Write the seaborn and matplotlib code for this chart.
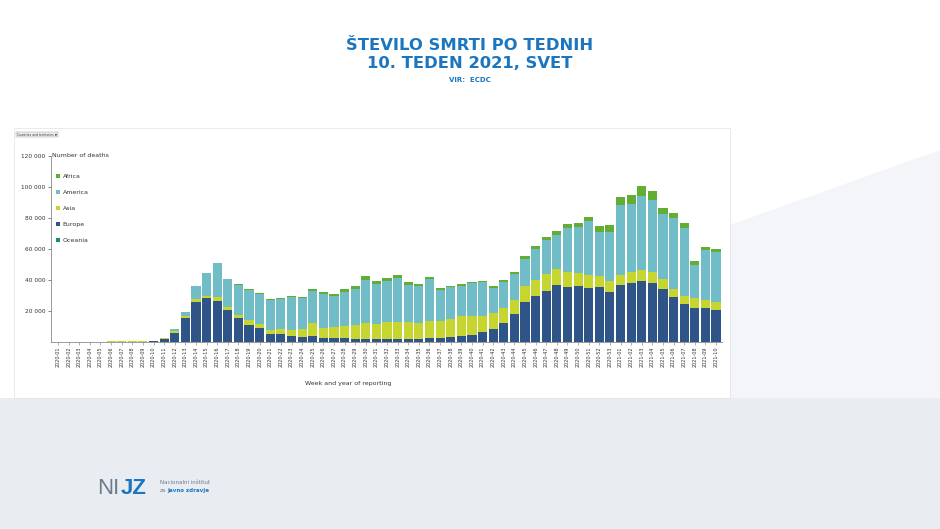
import matplotlib.pyplot as plt
import seaborn as sns
import numpy as np
from matplotlib.patches import Patch, Rectangle, Polygon
from matplotlib.ticker import FuncFormatter

# week labels 2020-01 .. 2020-53, 2021-01 .. 2021-10
weeks = [f"2020-{w:02d}" for w in range(1, 54)] + [f"2021-{w:02d}" for w in range(1, 11)]

# weekly deaths per continent
oceania = [0, 0, 0, 0, 0, 0, 0, 0, 0, 0,
           0, 5, 10, 20, 20, 10, 5, 0, 0, 0,
           0, 0, 0, 0, 0, 0, 10, 20, 40, 70,
           100, 110, 120, 100, 80, 50, 20, 10, 5, 5,
           5, 5, 5, 5, 5, 5, 5, 5, 5, 5,
           5, 5, 5,
           5, 5, 5, 5, 5, 5, 5, 5, 5, 5]
europe = [0, 0, 0, 0, 0, 0, 0, 10, 50, 500,
          2000, 6000, 15700, 26000, 28200, 26400, 20600, 15300, 11200, 8800,
          5400, 5000, 3900, 3200, 3900, 2400, 2400, 2400, 1900, 1700,
          1700, 1900, 1900, 1900, 1900, 2400, 2400, 3000, 3900, 4500,
          6200, 8200, 12000, 18100, 26000, 29900, 33100, 36600, 35700, 35900,
          35000, 35300, 32300,
          37000, 38300, 39300, 37800, 34400, 29200, 24700, 22100, 21700, 20900]
asia = [0, 0, 20, 100, 300, 500, 700, 800, 400, 400,
        300, 800, 900, 1500, 1700, 2800, 1800, 2300, 2800, 2600,
        2600, 3400, 4100, 5400, 8100, 6600, 7300, 8100, 9300, 10400,
        10100, 10600, 10600, 10600, 10200, 10900, 11400, 11800, 12700, 12100,
        10800, 10300, 9700, 9000, 10300, 10100, 10800, 10300, 9500, 8400,
        8200, 7300, 6800,
        6400, 6600, 6900, 7400, 6000, 5200, 5200, 6500, 5400, 5100]
america = [0, 0, 0, 0, 0, 0, 0, 0, 0, 20,
           200, 1400, 2800, 8600, 14600, 21700, 18000, 19300, 19500, 19500,
           19100, 19200, 21000, 19800, 20700, 21700, 20000, 21800, 23100, 27900,
           25200, 26600, 28600, 24000, 23800, 27100, 20000, 20400, 19700, 21400,
           21400, 16500, 16800, 16500, 17200, 20200, 21900, 22300, 28300, 30100,
           34600, 28600, 32100,
           44800, 44300, 48200, 46400, 42200, 45400, 43800, 21300, 32200, 32100]
africa = [0, 0, 0, 0, 0, 0, 0, 0, 0, 0,
          10, 50, 100, 200, 200, 300, 400, 500, 500, 500,
          600, 600, 700, 800, 1300, 1300, 1500, 1700, 2000, 2600,
          2300, 2200, 2100, 1800, 1700, 1500, 1200, 1100, 900, 900,
          900, 1300, 1500, 1800, 2200, 1900, 2100, 2200, 2400, 2400,
          2800, 3800, 4100,
          5300, 5800, 6200, 6000, 3600, 3200, 2800, 2100, 2200, 2100]

colors = {
    'Africa': '#63ad35',
    'America': '#70bcc7',
    'Asia': '#c6d530',
    'Europe': '#2f5487',
    'Oceania': '#16906f',
}
stack_order = ['Oceania', 'Europe', 'Asia', 'America', 'Africa']   # bottom -> top
legend_order = ['Africa', 'America', 'Asia', 'Europe', 'Oceania']
series = {'Oceania': oceania, 'Europe': europe, 'Asia': asia,
          'America': america, 'Africa': africa}

W, H = 940, 529


def fx(x):
    return x / W


def fy(y):
    return 1 - y / H


sns.set_theme(style="white")
plt.rcParams['font.family'] = ['DejaVu Sans']

fig = plt.figure(figsize=(W / 100, H / 100), dpi=100)
fig.patch.set_facecolor('white')

# slide background shapes
fig.add_artist(Polygon([(fx(0), fy(398)), (fx(940), fy(398)), (fx(940), fy(529)), (fx(0), fy(529))],
                       closed=True, transform=fig.transFigure, facecolor='#e9edf2', edgecolor='none', zorder=-3))
fig.add_artist(Polygon([(fx(730), fy(225)), (fx(940), fy(150)), (fx(940), fy(398)), (fx(730), fy(398))],
                       closed=True, transform=fig.transFigure, facecolor='#f3f5f8', edgecolor='none', zorder=-3))
# white chart panel
fig.add_artist(Rectangle((fx(14), fy(398)), (730 - 14) / W, (398 - 128) / H,
                         transform=fig.transFigure, facecolor='white', edgecolor='#dde1e7', lw=0.5, zorder=-1))

# title
title_color = '#1b76bf'
fig.text(0.5, fy(45), 'ŠTEVILO SMRTI PO TEDNIH', ha='center', va='center',
         fontsize=11.8, fontweight='bold', color=title_color)
fig.text(0.5, fy(64), '10. TEDEN 2021, SVET', ha='center', va='center',
         fontsize=11.8, fontweight='bold', color=title_color)
fig.text(0.5, fy(80), 'VIR:  ECDC', ha='center', va='center',
         fontsize=5, fontweight='bold', color=title_color)

# chart
ax = fig.add_axes([fx(51), fy(342), (722 - 51) / W, (342 - 156) / H])
ax.set_facecolor('none')

tops = np.cumsum(np.array([series[n] for n in stack_order]), axis=0)
for name, top in reversed(list(zip(stack_order, tops))):
    sns.barplot(x=weeks, y=top, color=colors[name], saturation=1, width=0.86,
                errorbar=None, edgecolor='none', ax=ax)

ax.set_xlim(-0.66, len(weeks) - 0.44)
ax.set_ylim(0, 120000)
ax.set_yticks([20000, 40000, 60000, 80000, 100000, 120000])
ax.yaxis.set_major_formatter(FuncFormatter(lambda v, p: f"{v:,.0f}".replace(",", " ")))
ax.set_xticks(range(len(weeks)))
ax.set_xticklabels(weeks, rotation=90)
ax.tick_params(axis='y', labelsize=4.2, length=2, width=0.5, pad=2, colors='#555555', labelcolor='#333333', left=True)
ax.tick_params(axis='x', labelsize=3.5, length=2, width=0.4, pad=1.5, colors='#777777', labelcolor='#333333', bottom=True)
ax.set_xlabel('')
ax.set_ylabel('')
for s in ['top', 'right']:
    ax.spines[s].set_visible(False)
for s in ['left', 'bottom']:
    ax.spines[s].set_color('#8a8a8a')
    ax.spines[s].set_linewidth(0.6)

ax.text(0.002, 1.0, 'Number of deaths', transform=ax.transAxes, fontsize=4.5,
        ha='left', va='center', color='#333333')

handles = [Patch(facecolor=colors[n], edgecolor='none', label=n) for n in legend_order]
leg = ax.legend(handles=handles, loc='upper left', bbox_to_anchor=(0.008, 0.905),
                frameon=False, fontsize=4.5, handlelength=0.6, handleheight=0.6,
                handletextpad=0.4, labelspacing=1.75, borderaxespad=0, borderpad=0)
for t in leg.get_texts():
    t.set_color('#333333')

fig.text(fx(348), fy(384), 'Week and year of reporting', ha='center', va='center',
         fontsize=4.5, color='#333333')

# small filter widget
fig.text(fx(17), fy(134.5), 'Countries and territories ▼', ha='left', va='center', fontsize=2.2,
         color='#333333', bbox=dict(facecolor='#eeeeee', edgecolor='#999999', lw=0.3, pad=0.6))

# NIJZ logo
fig.text(fx(97), fy(489), 'NI', ha='left', va='center', fontsize=16,
         color='#6b7a8c', family=['Liberation Sans'])
fig.text(fx(121), fy(489), 'JZ', ha='left', va='center', fontsize=16,
         color='#1b76bf', fontweight='bold', family=['Liberation Sans'])
fig.text(fx(160), fy(483), 'Nacionalni inštitut', ha='left', va='center', fontsize=4,
         color='#6b7a8c')
fig.text(fx(160), fy(490.5), 'za', ha='left', va='center', fontsize=4, color='#6b7a8c')
fig.text(fx(167), fy(490.5), 'javno zdravje', ha='left', va='center', fontsize=4,
         color='#1b76bf', fontweight='bold')

fig.savefig('out.png', dpi=100)
